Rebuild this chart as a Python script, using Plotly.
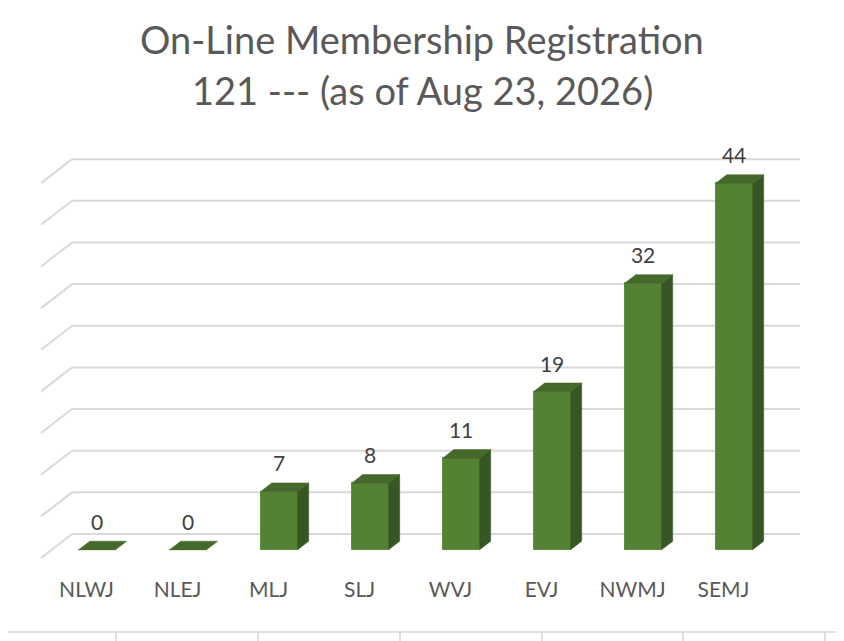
import plotly.graph_objects as go

# chart data
categories = ['NLWJ', 'NLEJ', 'MLJ', 'SLJ', 'WVJ', 'EVJ', 'NWMJ', 'SEMJ']
members = [0, 0, 7, 8, 11, 19, 32, 44]
grid_values = [0, 5, 10, 15, 20, 25, 30, 35, 40, 45]
title_line1 = 'On-Line Membership Registration'
title_line2 = '121 --- (as of Aug 23, 2026)'

# page has an 8px body margin, so the figure sits 8px in from the window edge
W, H = 836, 633
OFF = 8

# fake 3d: shift per unit of depth (0 = back wall, 1 = front of floor)
depth_dx = -0.34
depth_dy = -2.88
d_front = 0.66
d_back = 0.30
half_w = 0.203

front_col = '#548235'
top_col = '#44692b'
side_col = '#375623'
text_col = '#595959'

n = len(categories)
idx = list(range(n))

fx = [i + depth_dx * d_front for i in idx]
base_f = depth_dy * d_front
sx = depth_dx * (d_back - d_front)
sy = depth_dy * (d_back - d_front)

fig = go.Figure()

# back wall gridlines + the diagonal bit on the left
for g in grid_values:
    fig.add_shape(type='line', xref='x', yref='y', layer='below',
                  x0=-0.5, y0=g, x1=n - 0.5, y1=g,
                  line=dict(color='#d9d9d9', width=2))
    fig.add_shape(type='line', xref='x', yref='y', layer='below',
                  x0=-0.5, y0=g, x1=-0.5 + depth_dx, y1=g + depth_dy,
                  line=dict(color='#d9d9d9', width=2))

# front faces
fig.add_trace(go.Bar(
    x=fx, y=members, base=base_f, width=2 * half_w,
    marker=dict(color=front_col, line=dict(color='#5f913c', width=1)),
    hoverinfo='skip', showlegend=False
))

# side faces and top faces
side_x, side_y, top_x, top_y = [], [], [], []
for x0, v in zip(fx, members):
    xl, xr = x0 - half_w, x0 + half_w
    yt = v + base_f
    if v > 0:
        side_x += [xr, xr, xr + sx, xr + sx, xr, None]
        side_y += [base_f, yt, yt + sy, base_f + sy, base_f, None]
    top_x += [xl, xr, xr + sx, xl + sx, xl, None]
    top_y += [yt, yt, yt + sy, yt + sy, yt, None]

fig.add_trace(go.Scatter(x=side_x, y=side_y, fill='toself', mode='lines',
                         fillcolor=side_col, line=dict(color=side_col, width=0.5),
                         hoverinfo='skip', showlegend=False))
fig.add_trace(go.Scatter(x=top_x, y=top_y, fill='toself', mode='lines',
                         fillcolor=top_col, line=dict(color=top_col, width=0.5),
                         hoverinfo='skip', showlegend=False))

# value labels
fig.add_trace(go.Scatter(
    x=fx, y=[v + base_f + sy + 2.0 for v in members],
    mode='text', text=[str(v) for v in members], textposition='middle center',
    textfont=dict(family='Lato', size=21, color='#404040'),
    hoverinfo='skip', showlegend=False
))

# category labels in front of the floor
fig.add_trace(go.Scatter(
    x=[i + depth_dx for i in idx], y=[depth_dy - 4.0] * n,
    mode='text', text=categories, textposition='middle center',
    textfont=dict(family='Lato', size=21, color=text_col),
    hoverinfo='skip', showlegend=False
))

# spreadsheet cell borders under the chart
border_y = 1 - (632 - OFF) / H
fig.add_shape(type='line', xref='paper', yref='paper', x0=0, x1=1,
              y0=border_y, y1=border_y, line=dict(color='#d4d4d4', width=1.5))
for px in [116, 258, 400, 542, 683, 825]:
    fig.add_shape(type='line', xref='paper', yref='paper',
                  x0=(px - OFF) / W, x1=(px - OFF) / W, y0=0, y1=border_y,
                  line=dict(color='#d4d4d4', width=1.5))

fig.add_annotation(text=title_line1, xref='paper', yref='paper',
                   x=(422 - OFF) / W, y=1 - (39 - OFF) / H,
                   showarrow=False, yanchor='middle',
                   font=dict(family='Lato', size=38, color=text_col))
fig.add_annotation(text=title_line2, xref='paper', yref='paper',
                   x=(422 - OFF) / W, y=1 - (90 - OFF) / H,
                   showarrow=False, yanchor='middle',
                   font=dict(family='Lato', size=38, color=text_col))

# axis ranges so that back wall: category i centre at 117.5 + 91*i px,
# value 0 at 534 px and 8.33 px per member (window coords)
fig.update_layout(
    width=W, height=H,
    margin=dict(l=0, r=0, t=0, b=0),
    paper_bgcolor='white', plot_bgcolor='white',
    xaxis=dict(range=[(OFF - 117.5) / 91, (OFF + W - 117.5) / 91],
               visible=False, fixedrange=True),
    yaxis=dict(range=[(534 - OFF - H) / 8.33, (534 - OFF) / 8.33],
               visible=False, fixedrange=True),
    bargap=0
)

fig.write_html("out.html")
